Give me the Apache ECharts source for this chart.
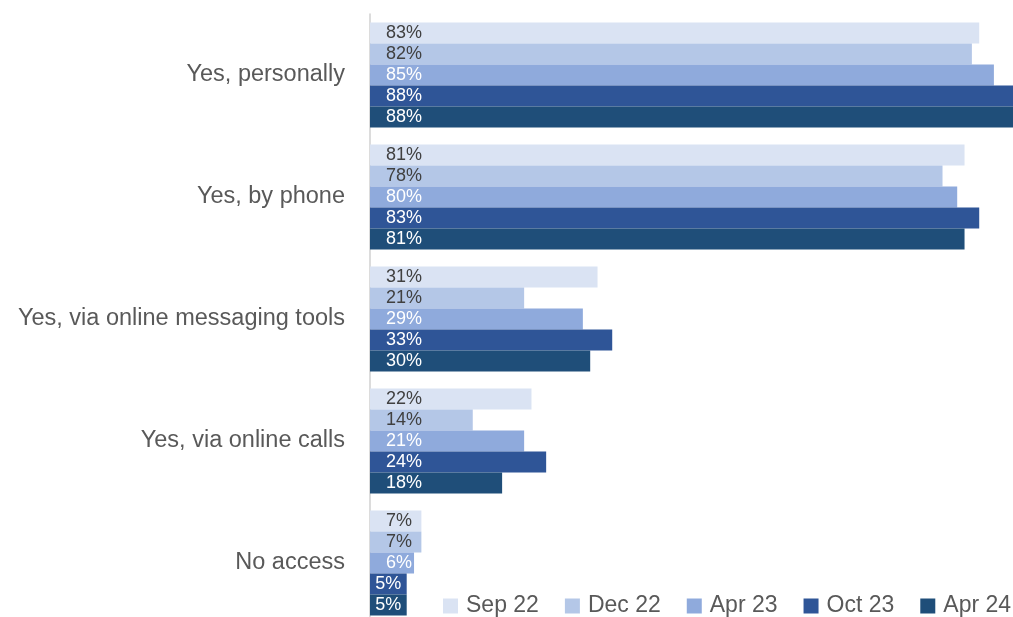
<!DOCTYPE html>
<html>
<head>
<meta charset="utf-8">
<script src="https://cdn.jsdelivr.net/npm/echarts@6/dist/echarts.min.js"></script>
<style>html,body{margin:0;padding:0;background:#fff}#c{width:1013px;height:617px}</style>
</head>
<body>
<div id="c"></div>
<script>
const categories = ["Yes, personally", "Yes, by phone", "Yes, via online messaging tools", "Yes, via online calls", "No access"];
const seriesNames = ["Sep 22", "Dec 22", "Apr 23", "Oct 23", "Apr 24"];
const sep22 = [83, 81, 31, 22, 7];
const dec22 = [82, 78, 21, 14, 7];
const apr23 = [85, 80, 29, 21, 6];
const oct23 = [88, 83, 33, 24, 5];
const apr24 = [88, 81, 30, 18, 5];

const colors = ["#DAE3F3", "#B4C7E7", "#8FAADC", "#2F5597", "#1F4E79"];
const labelColors = ["#404040", "#404040", "#ffffff", "#ffffff", "#ffffff"];
const allData = [sep22, dec22, apr23, oct23, apr24];
const FONT = "Liberation Sans, Arial, sans-serif";

const chart = echarts.init(document.getElementById('c'), null, {renderer: 'canvas'});
chart.setOption({
  animation: false,
  backgroundColor: '#ffffff',
  textStyle: {fontFamily: FONT},
  grid: {left: 370, top: 14, width: 734, height: 610, containLabel: false, outerBoundsMode: 'none'},
  legend: {
    data: seriesNames,
    left: 443, top: 594, padding: 0,
    itemWidth: 15, itemHeight: 15, itemGap: 26,
    icon: 'rect',
    textStyle: {fontSize: 23, lineHeight: 24, color: '#595959', fontFamily: FONT, padding: [0, 0, 0, 3]}
  },
  xAxis: {
    type: 'value', min: 0, max: 100,
    show: false
  },
  yAxis: {
    type: 'category', data: categories, inverse: true,
    axisLine: {show: true, lineStyle: {color: '#D0D0D0', width: 1.5}},
    axisTick: {show: false},
    axisLabel: {fontSize: 23.5, color: '#595959', margin: 25, fontFamily: FONT}
  },
  series: seriesNames.map((n, i) => ({
    name: n, type: 'bar', clip: false,
    data: allData[i].map(v => v < 6 ? {value: v, label: {position: 'inside'}} : v),
    barGap: '0%', barCategoryGap: '14%',
    itemStyle: {color: colors[i]},
    label: {show: true, position: 'insideLeft', distance: 16, formatter: '{c}%',
      color: labelColors[i], fontSize: 18, fontFamily: FONT}
  }))
});
</script>
</body>
</html>
